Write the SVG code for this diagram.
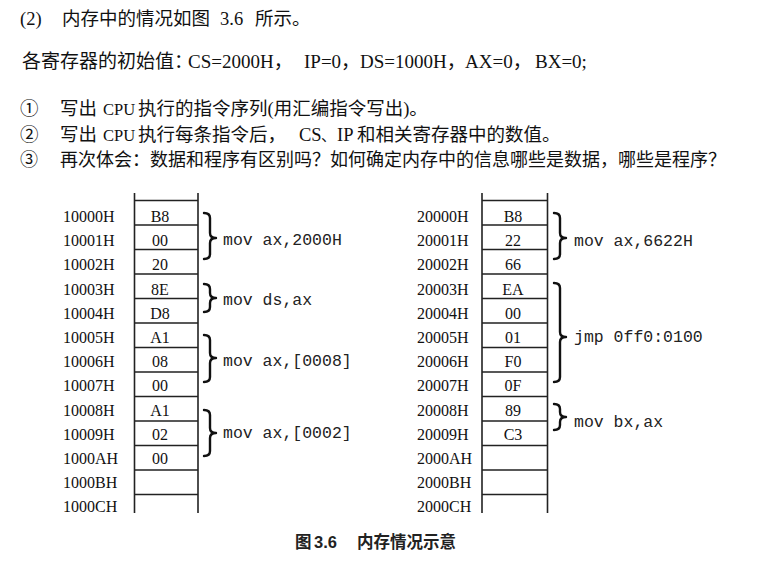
<svg xmlns="http://www.w3.org/2000/svg" width="760" height="566" viewBox="0 0 760 566">
<defs>
<style>
.q{font-family:"Liberation Serif","Noto Sans CJK SC",serif;font-size:18.5px;fill:#111}
.q3{font-family:"Liberation Serif","Noto Sans CJK SC",serif;font-size:18px;fill:#111}
.cpu{font-size:16.5px}
.addr{font-family:"Liberation Serif",serif;font-size:16px;fill:#111}
.val{font-family:"Liberation Serif",serif;font-size:16px;fill:#111;text-anchor:middle}
.asm{font-family:"Liberation Mono",monospace;font-size:16.5px;fill:#222}
.grid{stroke:#222;stroke-width:1.6;fill:none}
.brace{stroke:#111;stroke-width:2.4;fill:none;stroke-linecap:round;stroke-linejoin:round}
.cap{font-family:"Liberation Sans","Noto Sans CJK SC",sans-serif;font-size:16.5px;font-weight:bold;fill:#222}
</style>
</defs>
<rect width="760" height="566" fill="#ffffff"/>

<g id="question">
<text class="q" y="25"><tspan x="20">(2)</tspan><tspan x="62">内存中的情况如图</tspan><tspan x="220">3.6</tspan><tspan x="255">所示。</tspan></text>
<text class="q" y="68" style="font-size:19px"><tspan x="22">各寄存器的初始值：</tspan><tspan x="188">CS=2000H，</tspan><tspan x="304">IP=0，</tspan><tspan x="360">DS=1000H，</tspan><tspan x="465">AX=0，</tspan><tspan x="535">BX=0;</tspan></text>
<text class="q" y="115"><tspan x="20">①</tspan><tspan x="60">写出</tspan><tspan x="103" class="cpu">CPU</tspan><tspan x="138">执行的指令序列(用汇编指令写出)。</tspan></text>
<text class="q" y="140.5"><tspan x="20">②</tspan><tspan x="60">写出</tspan><tspan x="103" class="cpu">CPU</tspan><tspan x="138">执行每条指令后，</tspan><tspan x="299">CS</tspan><tspan x="321" style="font-size:15px">、</tspan><tspan x="337">IP</tspan><tspan x="357">和相关寄存器中的数值。</tspan></text>
<text class="q3" y="166"><tspan x="20">③</tspan><tspan x="60">再次体会：数据和程序有区别吗？如何确定内存中的信息哪些是数据，哪些是程序？</tspan></text>
</g>

<g id="mem-left">
<path class="grid" d="M134.5 193V513M198 193V513M134.5 200.5H198M134.5 225H198M134.5 249.5H198M134.5 274H198M134.5 298.5H198M134.5 323H198M134.5 347.5H198M134.5 372H198M134.5 396.5H198M134.5 421H198M134.5 445.5H198M134.5 470H198M134.5 494.5H198"/>
<g class="addr">
<text x="63" y="222">10000H</text>
<text x="63" y="246.2">10001H</text>
<text x="63" y="270.4">10002H</text>
<text x="63" y="294.6">10003H</text>
<text x="63" y="318.8">10004H</text>
<text x="63" y="343">10005H</text>
<text x="63" y="367.2">10006H</text>
<text x="63" y="391.4">10007H</text>
<text x="63" y="415.6">10008H</text>
<text x="63" y="439.8">10009H</text>
<text x="63" y="464">1000AH</text>
<text x="63" y="488.2">1000BH</text>
<text x="63" y="512.4">1000CH</text>
</g>
<g class="val">
<text x="160" y="222">B8</text>
<text x="160" y="246.2">00</text>
<text x="160" y="270.4">20</text>
<text x="160" y="294.6">8E</text>
<text x="160" y="318.8">D8</text>
<text x="160" y="343">A1</text>
<text x="160" y="367.2">08</text>
<text x="160" y="391.4">00</text>
<text x="160" y="415.6">A1</text>
<text x="160" y="439.8">02</text>
<text x="160" y="464">00</text>
</g>
</g>

<g id="mem-right">
<path class="grid" d="M482 193V513M547.5 193V513M482 200.5H547.5M482 225H547.5M482 249.5H547.5M482 274H547.5M482 298.5H547.5M482 323H547.5M482 347.5H547.5M482 372H547.5M482 396.5H547.5M482 421H547.5M482 445.5H547.5M482 470H547.5M482 494.5H547.5"/>
<g class="addr">
<text x="417" y="222">20000H</text>
<text x="417" y="246.2">20001H</text>
<text x="417" y="270.4">20002H</text>
<text x="417" y="294.6">20003H</text>
<text x="417" y="318.8">20004H</text>
<text x="417" y="343">20005H</text>
<text x="417" y="367.2">20006H</text>
<text x="417" y="391.4">20007H</text>
<text x="417" y="415.6">20008H</text>
<text x="417" y="439.8">20009H</text>
<text x="417" y="464">2000AH</text>
<text x="417" y="488.2">2000BH</text>
<text x="417" y="512.4">2000CH</text>
</g>
<g class="val">
<text x="513" y="222">B8</text>
<text x="513" y="246.2">22</text>
<text x="513" y="270.4">66</text>
<text x="513" y="294.6">EA</text>
<text x="513" y="318.8">00</text>
<text x="513" y="343">01</text>
<text x="513" y="367.2">F0</text>
<text x="513" y="391.4">0F</text>
<text x="513" y="415.6">89</text>
<text x="513" y="439.8">C3</text>
</g>
</g>

<g id="connectors">
<path class="brace" d="M204 213Q210 213 210 218V233Q210 238 216 238Q210 238 210 243V254Q210 259 204 259"/>
<path class="brace" d="M204 284Q210 284 210 289V293Q210 298 216 298Q210 298 210 303V307Q210 312 204 312"/>
<path class="brace" d="M204 335Q210 335 210 340V353Q210 358 216 358Q210 358 210 363V377Q210 382 204 382"/>
<path class="brace" d="M204 410Q210 410 210 415V428Q210 433 216 433Q210 433 210 438V451Q210 456 204 456"/>
<path class="brace" d="M554 213Q560 213 560 218V233Q560 238 566 238Q560 238 560 243V254Q560 259 554 259"/>
<path class="brace" d="M554 283Q560 283 560 288V332Q560 337 566 337Q560 337 560 342V377Q560 382 554 382"/>
<path class="brace" d="M554 404Q560 404 560 409V412Q560 417 566 417Q560 417 560 422V425Q560 430 554 430"/>
</g>

<g id="labels">
<text class="asm" x="223" y="245">mov ax,2000H</text>
<text class="asm" x="223" y="305">mov ds,ax</text>
<text class="asm" x="223" y="366">mov ax,[0008]</text>
<text class="asm" x="223" y="438">mov ax,[0002]</text>
<text class="asm" x="574" y="246">mov ax,6622H</text>
<text class="asm" x="574" y="342">jmp 0ff0:0100</text>
<text class="asm" x="574" y="427">mov bx,ax</text>
</g>

<g id="caption">
<text class="cap" y="548"><tspan x="295">图</tspan><tspan x="314">3.6</tspan><tspan x="357">内存情况示意</tspan></text>
</g>
</svg>
